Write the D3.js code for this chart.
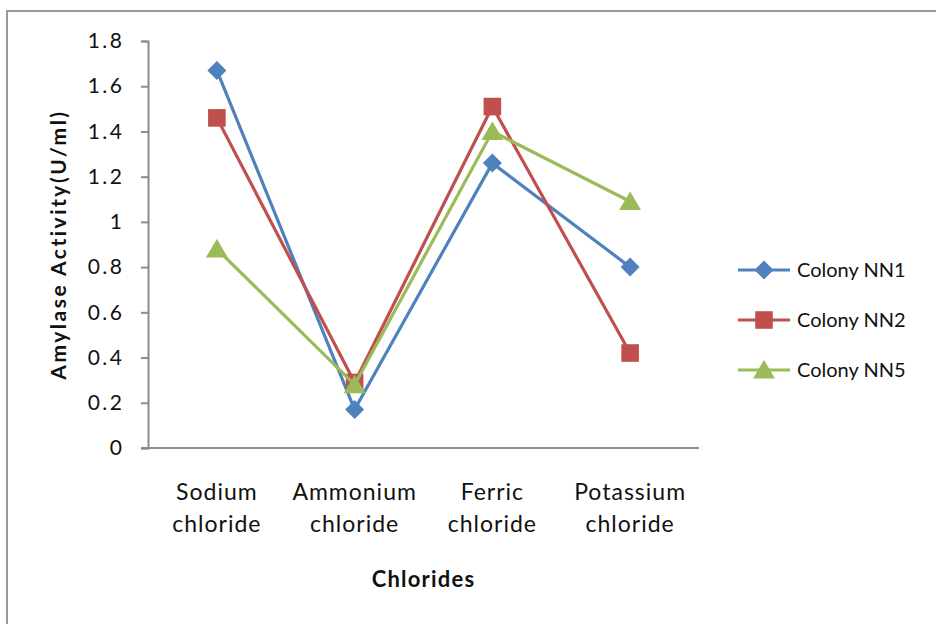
<!DOCTYPE html>
<html>
<head>
<meta charset="utf-8">
<script src="https://cdn.jsdelivr.net/npm/d3@7"></script>
<style>
  html, body { margin: 0; padding: 0; background: #fff; }
  svg { display: block; }
  text { font-family: Lato, "Open Sans", sans-serif; fill: #111; }
</style>
</head>
<body>
<svg id="chart" width="936" height="624"></svg>
<script>
// Amylase activity of three colonies grown with different chloride salts
const categories = [["Sodium", "chloride"], ["Ammonium", "chloride"], ["Ferric", "chloride"], ["Potassium", "chloride"]];
const seriesNames = ["Colony NN1", "Colony NN2", "Colony NN5"];
const nn1 = [1.67, 0.17, 1.26, 0.80];
const nn2 = [1.46, 0.29, 1.51, 0.42];
const nn5 = [0.88, 0.28, 1.40, 1.09];
const yTicks = [0, 0.2, 0.4, 0.6, 0.8, 1, 1.2, 1.4, 1.6, 1.8];

const seriesValues = [nn1, nn2, nn5];
const colors = ["#4F81BD", "#C0504D", "#9BBB59"];

// marker shapes: square-on-point diamond, square, triangle (size = half-extent)
const diamond = { draw(ctx, r) { ctx.moveTo(0, -r); ctx.lineTo(r, 0); ctx.lineTo(0, r); ctx.lineTo(-r, 0); ctx.closePath(); } };
const square = { draw(ctx, r) { ctx.rect(-r, -r, 2 * r, 2 * r); } };
const triangle = { draw(ctx, r) { ctx.moveTo(0, -r); ctx.lineTo(r * 1.1, r * 0.85); ctx.lineTo(-r * 1.1, r * 0.85); ctx.closePath(); } };
const shapes = [diamond, square, triangle];
const markerSize = [9.5, 8.8, 10];

const svg = d3.select("#chart");
const W = 936, H = 624;
const plot = { left: 148, right: 699, top: 41, bottom: 448 };

// outer chart frame (runs off the right and bottom edges)
svg.append("rect")
  .attr("x", 7).attr("y", 11)
  .attr("width", W + 20).attr("height", H + 20)
  .attr("fill", "none").attr("stroke", "#9a9a9a").attr("stroke-width", 2);

const x = d3.scaleBand()
  .domain(d3.range(categories.length))
  .range([plot.left, plot.right]);

const y = d3.scaleLinear().domain([0, 1.8]).range([plot.bottom, plot.top]);

// y axis
const yAxis = d3.axisLeft(y)
  .tickValues(yTicks)
  .tickSize(7)
  .tickPadding(16.5)
  .tickFormat(d => String(Math.round(d * 10) / 10));

const gy = svg.append("g").attr("transform", `translate(${plot.left},0)`).call(yAxis);
gy.select(".domain").attr("stroke", "#8c8c8c").attr("stroke-width", 2);
gy.selectAll(".tick line").attr("stroke", "#8c8c8c").attr("stroke-width", 2);
gy.selectAll(".tick text")
  .attr("font-family", "Lato, sans-serif")
  .attr("font-size", 21).attr("letter-spacing", 2.5).attr("fill", "#111");

// x axis baseline
const gx = svg.append("g").attr("transform", `translate(0,${plot.bottom})`)
  .call(d3.axisBottom(x).tickSize(0).tickFormat(""));
gx.select(".domain").attr("stroke", "#8c8c8c").attr("stroke-width", 2)
  .attr("d", `M${plot.left - 7},0H${plot.right}`);

// category labels (two lines each)
const catLabels = svg.append("g");
categories.forEach((lines, i) => {
  const t = catLabels.append("text")
    .attr("x", x(i) + x.bandwidth() / 2)
    .attr("y", 500)
    .attr("text-anchor", "middle")
    .attr("font-size", 23)
    .attr("letter-spacing", 1);
  lines.forEach((ln, j) => {
    t.append("tspan").attr("x", x(i) + x.bandwidth() / 2).attr("dy", j === 0 ? 0 : 32).text(ln);
  });
});

// axis titles
svg.append("text")
  .attr("x", (plot.left + plot.right) / 2).attr("y", 587)
  .attr("text-anchor", "middle")
  .attr("font-size", 22).attr("font-weight", "bold").attr("letter-spacing", 1.2)
  .text("Chlorides");

svg.append("text")
  .attr("transform", `translate(66,${(plot.top + plot.bottom) / 2}) rotate(-90)`)
  .attr("text-anchor", "middle")
  .attr("font-size", 21).attr("font-weight", "bold").attr("letter-spacing", 2.5)
  .text("Amylase Activity(U/ml)");

// series lines and markers
const cx = i => x(i) + x.bandwidth() / 2;
const line = d3.line().x((d, i) => cx(i)).y(d => y(d));

seriesValues.forEach((vals, s) => {
  const g = svg.append("g");
  g.append("path")
    .attr("d", line(vals))
    .attr("fill", "none")
    .attr("stroke", colors[s])
    .attr("stroke-width", 3.2)
    .attr("stroke-linejoin", "round");
  g.selectAll("path.pt").data(vals).join("path")
    .attr("class", "pt")
    .attr("transform", (d, i) => `translate(${cx(i)},${y(d)})`)
    .attr("d", d3.symbol().type(shapes[s]).size(markerSize[s]))
    .attr("fill", colors[s]);
});

// legend
const legend = svg.append("g");
seriesNames.forEach((name, s) => {
  const ly = 270 + s * 50;
  legend.append("line")
    .attr("x1", 738).attr("x2", 790).attr("y1", ly).attr("y2", ly)
    .attr("stroke", colors[s]).attr("stroke-width", 3.2);
  legend.append("path")
    .attr("transform", `translate(764,${ly})`)
    .attr("d", d3.symbol().type(shapes[s]).size(markerSize[s]))
    .attr("fill", colors[s]);
  legend.append("text")
    .attr("x", 797).attr("y", ly + 7)
    .attr("font-size", 20)
    .text(name);
});
</script>
</body>
</html>
